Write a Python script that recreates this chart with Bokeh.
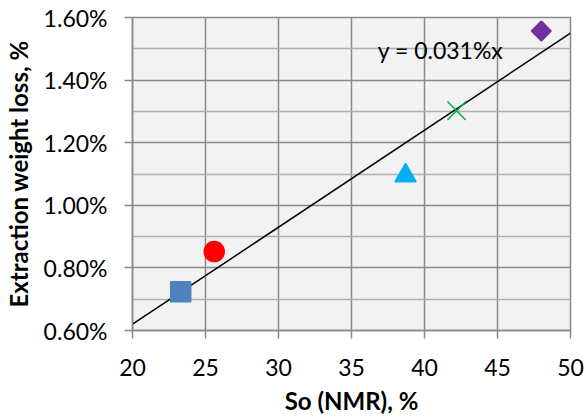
from bokeh.plotting import figure
from bokeh.models import FixedTicker, PrintfTickFormatter, Range1d, Label, ColumnDataSource
from bokeh.embed import file_html
from bokeh.resources import INLINE
import math

# Data (So in %, weight loss in %)
so_nmr = [23.3, 25.6, 38.7, 42.2, 48.0]
weight_loss = [0.724, 0.852, 1.095, 1.302, 1.557]
markers = ["square", "circle", "triangle", "x", "square"]
colors = ["#4f81bd", "#ff0000", "#00b0f0", "#00b050", "#7030a0"]
marker_sizes = [20, 20, 21, 26, 14]
angles = [0, 0, 0, 0, math.pi / 4]

slope = 0.031  # %/unit
trend_x = [20, 50]
x_ticks = [20, 25, 30, 35, 40, 45, 50]
y_ticks = [0.6, 0.8, 1.0, 1.2, 1.4, 1.6]
y_minor = [0.7, 0.9, 1.1, 1.3, 1.5]
eq_text = "y = 0.031%x"

FONT = "Lato"

p = figure(width=586, height=417, output_backend="svg", toolbar_location=None,
           x_range=Range1d(20, 50), y_range=Range1d(0.6, 1.6),
           min_border_left=131, min_border_right=16, min_border_top=17, min_border_bottom=86)
p.background_fill_color = "#f2f2f2"
p.border_fill_color = "white"
p.outline_line_color = "#898989"
p.outline_line_width = 1.5

p.xaxis.ticker = FixedTicker(ticks=x_ticks)
p.yaxis.ticker = FixedTicker(ticks=y_ticks, minor_ticks=y_minor)
p.yaxis.formatter = PrintfTickFormatter(format="%.2f%%")

for ax in (p.xaxis[0], p.yaxis[0]):
    ax.axis_line_color = "#898989"
    ax.axis_line_width = 1.5
    ax.major_tick_line_color = "#898989"
    ax.major_tick_line_width = 1.5
    ax.major_tick_out = 8
    ax.major_tick_in = 0
    ax.minor_tick_line_color = None
    ax.major_label_text_font = FONT
    ax.major_label_text_font_size = "23px"
    ax.major_label_text_color = "black"
    ax.axis_label_text_font = FONT
    ax.axis_label_text_font_size = "24px"
    ax.axis_label_text_font_style = "bold"
    ax.axis_label_text_color = "black"

p.xaxis.axis_label = "So (NMR), %"
p.yaxis.axis_label = "Extraction weight loss, %"
p.xaxis.major_label_standoff = 20
p.yaxis.major_label_standoff = 17
p.xaxis.axis_label_standoff = 7
p.yaxis.axis_label_standoff = 8

p.xgrid.grid_line_color = "#898989"
p.xgrid.grid_line_width = 1.5
p.ygrid.grid_line_color = "#898989"
p.ygrid.grid_line_width = 1.5
p.ygrid.minor_grid_line_color = "#b0b0b0"
p.ygrid.minor_grid_line_width = 1.5

# trendline
trend_y = [slope * v for v in trend_x]
p.line(trend_x, trend_y, line_color="black", line_width=1.5)

src = ColumnDataSource(dict(x=so_nmr, y=weight_loss, marker=markers, color=colors,
                            size=marker_sizes, angle=angles))
p.scatter(x="x", y="y", marker="marker", size="size", angle="angle",
          fill_color="color", line_color="color", line_width=1.5, source=src)

p.add_layout(Label(x=41.1, y=1.496, text=eq_text, text_font=FONT, text_font_size="23px",
                   text_align="center", text_baseline="middle", text_color="black"))

open("out.html", "w").write(file_html(p, INLINE))
